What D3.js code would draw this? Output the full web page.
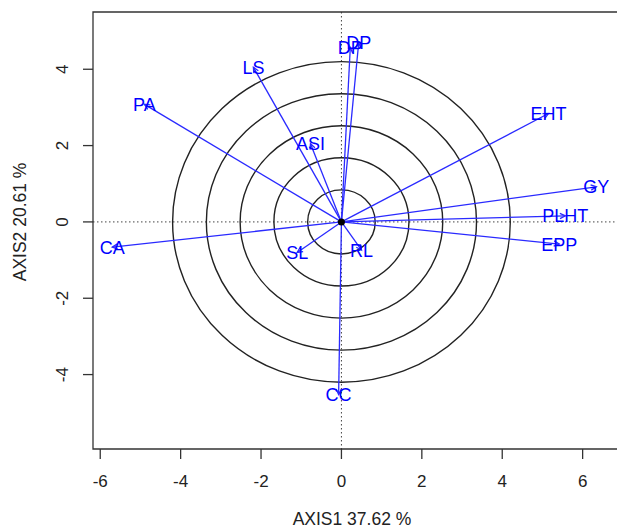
<!DOCTYPE html>
<html>
<head>
<meta charset="utf-8">
<script src="https://cdn.jsdelivr.net/npm/d3@7"></script>
<style>
  body { margin: 0; background: #fff; }
  svg { display: block; font-family: "Liberation Sans", Arial, sans-serif; }
</style>
</head>
<body>
<div id="chart"></div>
<script>
// variable loadings on the first two axes
const traits = ["PA", "LS", "DP", "DP", "ASI", "EHT", "GY", "PLHT", "EPP", "CA", "CC", "SL", "RL"];
const axis1 = [-4.9, -2.19, 0.22, 0.43, -0.77, 5.15, 6.34, 5.57, 5.42, -5.7, -0.07, -1.1, 0.5];
const axis2 = [3.08, 4.05, 4.57, 4.7, 2.05, 2.84, 0.92, 0.16, -0.58, -0.66, -4.52, -0.8, -0.74];
const circleRadii = [0.84, 1.68, 2.52, 3.36, 4.2];
const xTicks = [-6, -4, -2, 0, 2, 4, 6];
const yTicks = [-4, -2, 0, 2, 4];
const xTitle = "AXIS1 37.62 %";
const yTitle = "AXIS2 20.61 %";

const width = 617, height = 528;
const padL = 93, padT = 12, padB = 449;

const x = d3.scaleLinear().domain([-6.18, 7.0]).range([padL, padL + 13.18 * 40.2]);
const y = d3.scaleLinear().domain([-5.95, 5.5]).range([padB, padT]);

const svg = d3.select("#chart").append("svg")
  .attr("width", width).attr("height", height);

svg.append("defs").append("clipPath").attr("id", "plot")
  .append("rect").attr("x", padL).attr("y", padT)
  .attr("width", width - padL).attr("height", padB - padT);

const plot = svg.append("g").attr("clip-path", "url(#plot)");

// zero lines
plot.append("line")
  .attr("x1", padL).attr("x2", width).attr("y1", y(0)).attr("y2", y(0))
  .attr("stroke", "#444").attr("stroke-dasharray", "1.5,2.5");
plot.append("line")
  .attr("x1", x(0)).attr("x2", x(0)).attr("y1", padT).attr("y2", padB)
  .attr("stroke", "#444").attr("stroke-dasharray", "1.5,2.5");

// circles
plot.selectAll(".ring")
  .data(circleRadii)
  .join("ellipse")
  .attr("class", "ring")
  .attr("cx", x(0)).attr("cy", y(0))
  .attr("rx", d => x(d) - x(0))
  .attr("ry", d => y(0) - y(d))
  .attr("fill", "none").attr("stroke", "#222").attr("stroke-width", 1.4);

const pts = traits.map((t, i) => ({ name: t, a: axis1[i], b: axis2[i] }));

// arrows
plot.selectAll(".vec")
  .data(pts)
  .join("line")
  .attr("class", "vec")
  .attr("x1", x(0)).attr("y1", y(0))
  .attr("x2", d => x(d.a)).attr("y2", d => y(d.b))
  .attr("stroke", "#2a2aff").attr("stroke-width", 1.3);

plot.selectAll(".head")
  .data(pts)
  .join("path")
  .attr("class", "head")
  .attr("d", d => {
    const tx = x(d.a), ty = y(d.b);
    const ang = Math.atan2(ty - y(0), tx - x(0));
    const L = 6, w = 0.45;
    const p1 = [tx - L * Math.cos(ang - w), ty - L * Math.sin(ang - w)];
    const p2 = [tx - L * Math.cos(ang + w), ty - L * Math.sin(ang + w)];
    return `M${p1}L${tx},${ty}L${p2}`;
  })
  .attr("fill", "none").attr("stroke", "#2a2aff").attr("stroke-width", 1.3);

plot.append("circle")
  .attr("cx", x(0)).attr("cy", y(0)).attr("r", 3.5).attr("fill", "#000");

plot.selectAll(".lab")
  .data(pts)
  .join("text")
  .attr("class", "lab")
  .attr("x", d => x(d.a)).attr("y", d => y(d.b))
  .attr("text-anchor", "middle").attr("dy", "0.36em")
  .attr("font-size", 18).attr("fill", "#0000ff")
  .text(d => d.name);

// box
svg.append("path")
  .attr("d", `M${width + 5},${padT}H${padL}V${padB}H${width + 5}`)
  .attr("fill", "none").attr("stroke", "#333").attr("stroke-width", 1.3);

// x axis
svg.selectAll(".xt")
  .data(xTicks)
  .join("line")
  .attr("x1", d => x(d)).attr("x2", d => x(d))
  .attr("y1", padB).attr("y2", padB + 10)
  .attr("stroke", "#333").attr("stroke-width", 1.3);
svg.selectAll(".xl")
  .data(xTicks)
  .join("text")
  .attr("x", d => x(d)).attr("y", 487)
  .attr("text-anchor", "middle")
  .attr("font-size", 17).attr("fill", "#222")
  .text(d => d);

// y axis
svg.selectAll(".yt")
  .data(yTicks)
  .join("line")
  .attr("x1", padL - 10).attr("x2", padL)
  .attr("y1", d => y(d)).attr("y2", d => y(d))
  .attr("stroke", "#333").attr("stroke-width", 1.3);
svg.selectAll(".yl")
  .data(yTicks)
  .join("text")
  .attr("transform", d => `translate(68,${y(d)}) rotate(-90)`)
  .attr("text-anchor", "middle")
  .attr("font-size", 17).attr("fill", "#222")
  .text(d => d);

svg.append("text")
  .attr("x", 352).attr("y", 525)
  .attr("text-anchor", "middle")
  .attr("font-size", 17.5).attr("fill", "#222")
  .text(xTitle);
svg.append("text")
  .attr("transform", `translate(26,${y(0)}) rotate(-90)`)
  .attr("text-anchor", "middle")
  .attr("font-size", 17.5).attr("fill", "#222")
  .text(yTitle);
</script>
</body>
</html>
